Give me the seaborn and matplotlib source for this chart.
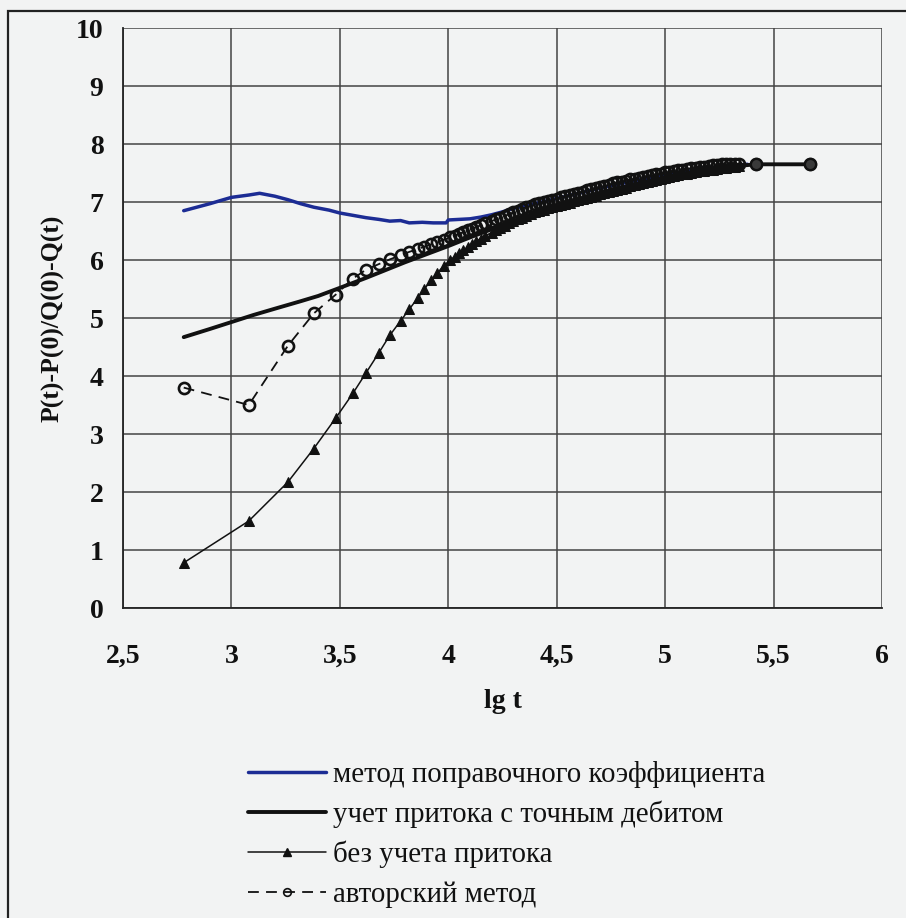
import numpy as np
import pandas as pd
import seaborn as sns
import matplotlib.pyplot as plt
from matplotlib.lines import Line2D
from matplotlib.patches import Rectangle

# --- data ---
# method of correction coefficient (blue)
blue_x = [2.78, 2.90, 3.00, 3.08, 3.13, 3.20, 3.26, 3.32, 3.38, 3.45, 3.50, 3.56,
          3.62, 3.68, 3.73, 3.78, 3.82, 3.88, 3.93, 3.99, 4.00, 4.05, 4.10, 4.15,
          4.20, 4.25, 4.30, 4.40, 4.50, 4.60, 4.70, 4.80, 4.90, 5.00, 5.10, 5.20,
          5.30, 5.38]
blue_y = [6.85, 6.97, 7.08, 7.12, 7.15, 7.10, 7.04, 6.97, 6.91, 6.86, 6.81, 6.77,
          6.73, 6.70, 6.67, 6.68, 6.64, 6.65, 6.64, 6.64, 6.69, 6.70, 6.71, 6.74,
          6.78, 6.83, 6.89, 6.97, 7.06, 7.15, 7.24, 7.32, 7.40, 7.47, 7.53, 7.58,
          7.63, 7.65]

# inflow with exact rate (thick black)
exact_x = [2.78, 2.90, 3.00, 3.10, 3.20, 3.32, 3.40, 3.50, 3.62, 3.70, 3.80, 3.90,
           4.00, 4.08, 4.15, 4.20, 4.30, 4.40, 4.50, 4.60, 4.70, 4.80, 4.90, 5.00,
           5.10, 5.20, 5.30, 5.42, 5.67]
exact_y = [4.67, 4.81, 4.93, 5.05, 5.16, 5.29, 5.38, 5.52, 5.69, 5.81, 5.96, 6.10,
           6.24, 6.36, 6.46, 6.53, 6.66, 6.79, 6.92, 7.04, 7.15, 7.25, 7.34, 7.42,
           7.50, 7.56, 7.61, 7.65, 7.65]

# time points of the marker series (lg t)
lgt = [2.78, 3.08, 3.26, 3.38, 3.48, 3.56, 3.62, 3.68, 3.73, 3.78, 3.82, 3.86,
       3.89, 3.92, 3.95, 3.98, 4.01, 4.03, 4.05, 4.07, 4.09, 4.11, 4.13, 4.15,
       4.17,
       4.20, 4.22, 4.24, 4.26, 4.28, 4.30, 4.32, 4.34, 4.36, 4.38, 4.40, 4.42,
       4.44, 4.46, 4.48, 4.50, 4.52, 4.54, 4.56, 4.58, 4.60, 4.62, 4.64, 4.66,
       4.68, 4.70, 4.72, 4.74, 4.76, 4.78, 4.80, 4.82, 4.84, 4.86, 4.88, 4.90,
       4.92, 4.94, 4.96, 4.98, 5.00, 5.02, 5.04, 5.06, 5.08, 5.10, 5.12, 5.14,
       5.16, 5.18, 5.20, 5.22, 5.24, 5.26, 5.28, 5.30, 5.32, 5.34]

# without inflow (triangles)
noinflow_y = [0.78, 1.50, 2.17, 2.75, 3.27, 3.70, 4.05, 4.40, 4.70, 4.95, 5.15, 5.35,
              5.50, 5.65, 5.78, 5.90, 6.00, 6.06, 6.12, 6.17, 6.22, 6.27, 6.32, 6.37,
              6.42,
              6.47, 6.51, 6.55, 6.59, 6.63, 6.67, 6.70, 6.73, 6.76, 6.79, 6.82, 6.84,
              6.87, 6.89, 6.91, 6.93, 6.95, 6.97, 6.99, 7.01, 7.03, 7.05, 7.07, 7.09,
              7.11, 7.13, 7.15, 7.17, 7.19, 7.21, 7.23, 7.25, 7.27, 7.29, 7.31, 7.33,
              7.35, 7.36, 7.38, 7.40, 7.42, 7.43, 7.45, 7.46, 7.48, 7.49, 7.50, 7.52,
              7.53, 7.54, 7.55, 7.56, 7.57, 7.58, 7.59, 7.60, 7.61, 7.62]

# author's method (open circles), two extra late points
author_x = lgt + [5.42, 5.67]
author_y = [3.80, 3.50, 4.52, 5.08, 5.40, 5.68, 5.83, 5.93, 6.01, 6.08, 6.14, 6.19,
            6.23, 6.27, 6.31, 6.35, 6.39, 6.42, 6.45, 6.48, 6.51, 6.54, 6.57, 6.60,
            6.63,
            6.67, 6.70, 6.73, 6.76, 6.79, 6.82, 6.85, 6.88, 6.91, 6.93, 6.96, 6.98,
            7.00, 7.02, 7.04, 7.06, 7.08, 7.10, 7.12, 7.14, 7.16, 7.18, 7.20, 7.22,
            7.24, 7.26, 7.28, 7.30, 7.32, 7.34, 7.35, 7.37, 7.39, 7.40, 7.42, 7.43,
            7.45, 7.46, 7.48, 7.49, 7.51, 7.52, 7.53, 7.55, 7.56, 7.57, 7.58, 7.59,
            7.60, 7.61, 7.62, 7.63, 7.64, 7.65, 7.65, 7.66, 7.66, 7.66,
            7.65, 7.65]

labels = ['метод поправочного коэффициента',
          'учет притока с точным дебитом',
          'без учета притока',
          'авторский метод']
xticks = [2.5, 3, 3.5, 4, 4.5, 5, 5.5, 6]
xtick_labels = ['2,5', '3', '3,5', '4', '4,5', '5', '5,5', '6']
yticks = list(range(0, 11))

bg = '#f2f3f3'
ink = '#111111'
blue = '#1c2c94'
sns.set_theme(style='white')
plt.rcParams['font.family'] = ['Liberation Serif', 'DejaVu Serif']

fig = plt.figure(figsize=(9.06, 9.18), dpi=100, facecolor=bg)
ax = fig.add_axes([123 / 906, 1 - 608 / 918, (882 - 123) / 906, (608 - 28) / 918])
ax.set_facecolor(bg)

sns.lineplot(x=blue_x, y=blue_y, ax=ax, sort=False, estimator=None,
             color=blue, linewidth=2.5)
sns.lineplot(x=exact_x, y=exact_y, ax=ax, sort=False, estimator=None,
             color=ink, linewidth=2.8)
sns.lineplot(x=lgt, y=noinflow_y, ax=ax, sort=False, estimator=None,
             color=ink, linewidth=1.1, marker='^', markersize=7.5,
             markeredgecolor=ink, markerfacecolor=ink)
sns.lineplot(x=author_x, y=author_y, ax=ax, sort=False, estimator=None,
             color=ink, linewidth=1.3, linestyle=(0, (6, 4)), marker='o',
             markersize=8, markerfacecolor='none', markeredgecolor=ink,
             markeredgewidth=1.9)
# the last two points look filled in the picture
ax.plot(author_x[-2:], author_y[-2:], linestyle='none', marker='o', markersize=8,
        markerfacecolor='#3a3a3a', markeredgecolor=ink, markeredgewidth=1.6)

ax.set_xlim(2.5, 6)
ax.set_ylim(0, 10)
ax.set_xticks(xticks)
ax.set_xticklabels(xtick_labels)
ax.set_yticks(yticks)
ax.grid(True, color='#444444', linewidth=1.1)
ax.set_axisbelow(True)
for side in ['top', 'right']:
    ax.spines[side].set_visible(False)
for side in ['left', 'bottom']:
    ax.spines[side].set_color('#222222')
    ax.spines[side].set_linewidth(1.3)

ax.tick_params(axis='both', which='major', direction='out', length=6, width=1.1,
               color='#222222', labelsize=20, labelcolor=ink)
ax.tick_params(axis='x', pad=20)
ax.tick_params(axis='y', pad=8)
for t in ax.get_xticklabels() + ax.get_yticklabels():
    t.set_fontweight('bold')

ax.set_xlabel('lg t', fontsize=20, fontweight='bold', color=ink, labelpad=14)
ax.set_ylabel('P(t)-P(0)/Q(0)-Q(t)', fontsize=18.5, fontweight='bold',
              color=ink, labelpad=8)

handles = [
    Line2D([], [], color=blue, linewidth=2.5),
    Line2D([], [], color=ink, linewidth=2.8),
    Line2D([], [], color=ink, linewidth=1.1, marker='^', markersize=5.5),
    Line2D([], [], color=ink, linewidth=1.3, linestyle=(0, (6, 4)),
           marker='o', markersize=5.5, markerfacecolor='none', markeredgewidth=1.2),
]
fig.legend(handles, labels, loc='upper left', bbox_to_anchor=(222 / 906, 1 - 735 / 918),
           frameon=False, fontsize=20.8, handlelength=2.7, handletextpad=0.25,
           labelspacing=0.44, labelcolor=ink)

# outer frame of the picture
fig.add_artist(Rectangle((8 / 906, -0.05), 1.1, 1 - 11 / 918 + 0.05,
                         transform=fig.transFigure, fill=False,
                         edgecolor='#222222', linewidth=1.6))

fig.savefig('out.png', dpi=100, facecolor=bg)
